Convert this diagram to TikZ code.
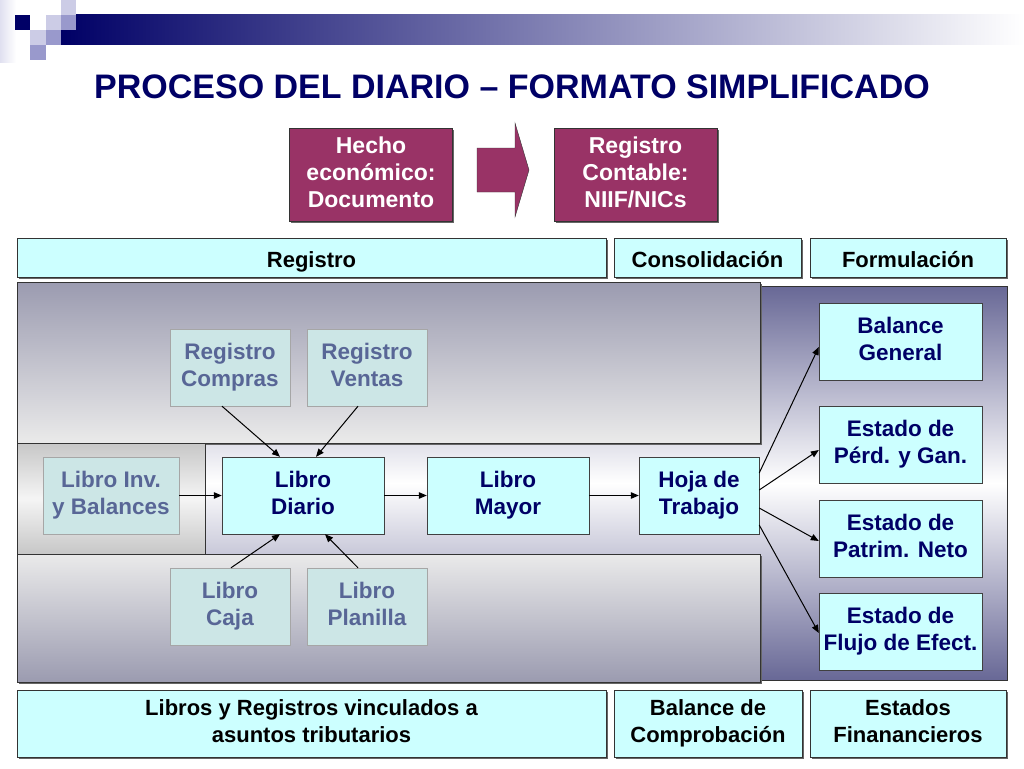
\documentclass[tikz,border=0pt]{standalone}
\usepackage{fontspec}
\setmainfont{Liberation Sans}
\usetikzlibrary{
    arrows.meta,
    shadows
}
\definecolor{nicemaroon}{RGB}{153,51,102}
\definecolor{nicecyan}{RGB}{204,255,255}
\definecolor{nicepale}{RGB}{204,230,230}
\definecolor{nicenavy}{RGB}{0,0,102}
\definecolor{niceslate}{RGB}{88,102,150}
\definecolor{panelblue}{RGB}{104,104,150}
\definecolor{panelgray}{RGB}{155,155,176}
\definecolor{panellight}{RGB}{234,234,234}
\definecolor{squarelight}{RGB}{204,204,230}
\definecolor{squaremid}{RGB}{153,153,204}
\newcommand{\topstrut}{\rule{0pt}{25.5pt}}
\newcommand{\botstrut}{\rule[-5.5pt]{0pt}{5.5pt}}
\tikzset{
    % Arrows
    arrow tip/.tip={Triangle[length=8pt,width=6.5pt]},
    arr/.style={-{arrow tip},line width=1pt},
    %
    % Shadow
    box shadow/.style={drop shadow={shadow xshift=1.5pt,shadow yshift=-1.5pt,fill=black!60,opacity=1}},
    %
    % Boxes
    box text/.style={font=\fontsize{22.5}{27}\selectfont\bfseries,align=center,inner sep=0pt,
        execute at begin node=\topstrut,execute at end node=\botstrut},
    fact box/.style={box text,font=\fontsize{23}{27}\selectfont\bfseries,draw=black!80,fill=nicemaroon,text=white,minimum width=163pt,minimum height=93pt,box shadow},
    band/.style={box text,font=\fontsize{22}{27}\selectfont\bfseries,draw=black!80,fill=nicecyan,box shadow},
    head band/.style={band,minimum height=39pt},
    foot band/.style={band,minimum height=67pt},
    main book/.style={box text,draw=black!75,fill=nicecyan,text=nicenavy,minimum height=77pt},
    aux book/.style={box text,draw=black!35,fill=nicepale,text=niceslate,minimum height=77pt},
    statement/.style={main book,minimum width=163pt},
    %
    % Panels
    panel line/.style={draw=black!80,line width=0.8pt}
}

\begin{document}
\begin{tikzpicture}[x=1pt,y=-1pt]
    \useasboundingbox (0,0) rectangle (1024,768);
    % corner squares and title bar
    \shade[left color=squarelight!60,right color=white] (0,0) rectangle (16,62);
    \shade[left color=nicenavy,right color=white] (61,15) rectangle (1024,45);
    \fill[nicenavy] (15,15) rectangle (30,30);
    \fill[squarelight] (46,15) rectangle (61,30);
    \fill[squarelight] (61,0) rectangle (76,15);
    \fill[squaremid] (61,15) rectangle (76,30);
    \fill[squarelight] (30,30) rectangle (46,45);
    \fill[squaremid] (46,30) rectangle (61,45);
    \fill[squaremid] (30,45) rectangle (46,60);
    \node[font=\fontsize{34}{40}\selectfont\bfseries,text=nicenavy] (title) at (512,87)
        {PROCESO DEL DIARIO -- FORMATO SIMPLIFICADO};
    %
    % fact and record
    \node[fact box] (hecho) at (371,175) {Hecho\\econ\'omico:\\Documento};
    \node[fact box] (contable) at (635.5,175) {Registro\\Contable:\\NIIF/NICs};
    \draw[fill=nicemaroon,draw=black!80] (477,148) -- (515,148) -- (515,123) -- (529,170)
        -- (515,217) -- (515,192) -- (477,192) -- cycle;
    %
    % header bands
    \node[head band,minimum width=589pt] (registro) at (311.5,257.5) {Registro};
    \node[head band,minimum width=187pt] (consol) at (707.5,257.5) {Consolidaci\'on};
    \node[head band,minimum width=196pt] (formul) at (908,257.5) {Formulaci\'on};
    %
    % background panels
    \shade[top color=panelblue,bottom color=panelblue,middle color=white,panel line] (17,286) rectangle (1007,680);
    \shade[top color=panelgray,bottom color=panellight,panel line,box shadow] (17,282) rectangle (760,443);
    \shade[top color=panellight,bottom color=panelgray,panel line,box shadow] (17,554) rectangle (760,682);
    \shade[top color=black!22,bottom color=black!22,middle color=black!4,panel line] (17,443) rectangle (205,554);
    \draw[panel line] (205,443) -- (760,443);
    %
    % books
    \node[aux book,minimum width=120pt] (compras) at (230,367.5) {Registro\\Compras};
    \node[aux book,minimum width=120pt] (ventas) at (367,367.5) {Registro\\Ventas};
    \node[aux book,minimum width=136pt] (inv) at (111,495.5) {Libro Inv.\\y Balances};
    \node[main book,minimum width=162pt] (diario) at (303,495.5) {Libro\\Diario};
    \node[main book,minimum width=162pt] (mayor) at (508,495.5) {Libro\\Mayor};
    \node[main book,minimum width=120pt] (hoja) at (699,495.5) {Hoja de\\Trabajo};
    \node[aux book,minimum width=120pt] (caja) at (230,606.5) {Libro\\Caja};
    \node[aux book,minimum width=120pt] (planilla) at (367,606.5) {Libro\\Planilla};
    %
    % statements
    \node[statement] (general) at (900.5,341.5) {Balance\\General};
    \node[statement] (perdidas) at (900.5,444.5) {Estado de\\P\'erd. y Gan.};
    \node[statement] (patrimonio) at (900.5,538.5) {Estado de\\Patrim. Neto};
    \node[statement] (flujo) at (900.5,632) {Estado de\\Flujo de Efect.};
    %
    % connectors
    \draw[arr] ([xshift=-8pt]compras.south) -- ([xshift=-23pt]diario.north);
    \draw[arr] ([xshift=-9pt]ventas.south) -- ([xshift=13pt]diario.north);
    \draw[arr] ([xshift=1pt]caja.north) -- ([xshift=-23pt]diario.south);
    \draw[arr] ([xshift=-9pt]planilla.north) -- ([xshift=22pt]diario.south);
    \draw[arr] (inv) -- (diario);
    \draw[arr] (diario) -- (mayor);
    \draw[arr] (mayor) -- (hoja);
    \draw[arr] ([yshift=22.5pt]hoja.east) -- ([yshift=-5.5pt]general.west);
    \draw[arr] ([yshift=5.5pt]hoja.east) -- ([yshift=-5.5pt]perdidas.west);
    \draw[arr] ([yshift=-12.5pt]hoja.east) -- ([yshift=-2.5pt]patrimonio.west);
    \draw[arr] ([yshift=-29.5pt]hoja.east) -- ([yshift=-1pt]flujo.west);
    %
    % footer bands
    \node[foot band,minimum width=589pt] (tributos) at (311.5,723.5) {Libros y Registros vinculados a\\asuntos tributarios};
    \node[foot band,minimum width=188pt] (comprob) at (708,723.5) {Balance de\\Comprobaci\'on};
    \node[foot band,minimum width=196pt] (financ) at (908,723.5) {Estados\\Finanancieros};
\end{tikzpicture}
\end{document}
